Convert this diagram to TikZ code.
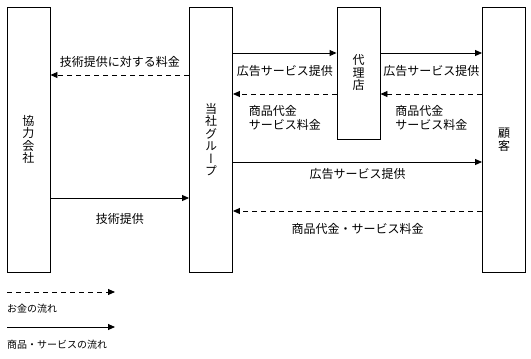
\documentclass[tikz,border=0pt]{standalone}
\usepackage{fontspec}
\setmainfont{Noto Sans CJK JP}
\newfontfamily\tatefont[RawFeature=+vert]{Noto Sans CJK JP}
\usetikzlibrary{arrows.meta, positioning, calc}

\begin{document}
\begin{tikzpicture}[x=1pt, y=-1pt,
      >={Triangle[length=7pt, width=6pt]},
      party/.style={draw, line width=0.9pt, fill=white, inner sep=0pt,
                    minimum width=43pt, align=center,
                    font=\tatefont\fontsize{12}{12.5}\selectfont},
      goods/.style={->, line width=0.9pt},
      money/.style={->, line width=0.9pt, dash pattern=on 5pt off 4pt},
      lbl/.style={font=\fontsize{12}{14}\selectfont, align=left},
      key/.style={font=\fontsize{10}{12}\selectfont, anchor=west,
                  inner sep=0pt}]
    \useasboundingbox (0,0) rectangle (531,359);
    \node[party, minimum height=265pt] (kyoryoku) at (28.5,139.5) {協\\力\\会\\社};
    \node[party, minimum height=265pt] (tousha)   at (211,139.5) {当\\社\\グ\\ル\\ー\\プ};
    \node[party, minimum height=132pt] (dairi)    at (358.5,73) {代\\理\\店};
    \node[party, minimum height=265pt] (kokyaku)  at (504,139.5) {顧\\客};
    \draw[money] (tousha.west |- 0,75) --
      node[lbl, above=4pt] {技術提供に対する料金} (kyoryoku.east |- 0,75);
    \draw[goods] (tousha.east |- 0,53) --
      node[lbl, below=9pt] {広告サービス提供} (dairi.west |- 0,53);
    \draw[money] (dairi.west |- 0,94) --
      node[lbl, below=8pt] {商品代金\\サービス料金} (tousha.east |- 0,94);
    \draw[goods] (dairi.east |- 0,53) --
      node[lbl, below=9pt] {広告サービス提供} (kokyaku.west |- 0,53);
    \draw[money] (kokyaku.west |- 0,94) --
      node[lbl, below=8pt] {商品代金\\サービス料金} (dairi.east |- 0,94);
    \draw[goods] (tousha.east |- 0,162) --
      node[lbl, below=3pt] {広告サービス提供} (kokyaku.west |- 0,162);
    \draw[money] (kokyaku.west |- 0,211) --
      node[lbl, below=9pt] {商品代金・サービス料金} (tousha.east |- 0,211);
    \draw[goods] (kyoryoku.east |- 0,198) --
      node[lbl, below=12pt] {技術提供} (tousha.west |- 0,198);
    % legend
    \coordinate (moneyA) at (7,292);
    \coordinate (moneyB) at (115,292);
    \coordinate (goodsA) at (7,327);
    \coordinate (goodsB) at (115,327);
    \draw[money] (moneyA) -- (moneyB);
    \node[key] (moneykey) at (7,309) {お金の流れ};
    \draw[goods] (goodsA) -- (goodsB);
    \node[key] (goodskey) at (7,345) {商品・サービスの流れ};
\end{tikzpicture}
\end{document}
